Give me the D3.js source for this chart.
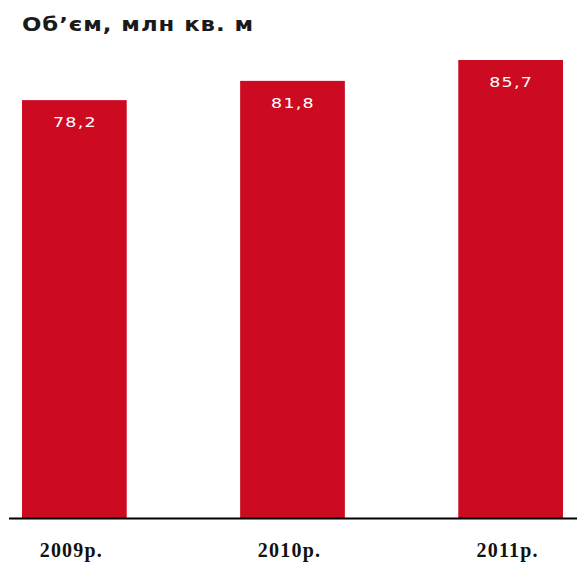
<!DOCTYPE html>
<html>
<head>
<meta charset="utf-8">
<script src="https://cdn.jsdelivr.net/npm/d3@7/dist/d3.min.js"></script>
<style>
  html, body { margin: 0; padding: 0; background: #fff; }
  svg { display: block; }
</style>
</head>
<body>
<svg id="chart" width="577" height="562"></svg>
<script>
// Floor space volume by year, mln sq. m
const years = ["2009р.", "2010р.", "2011р."];
const volumes = [78.2, 81.8, 85.7];
const valueLabels = ["78,2", "81,8", "85,7"];
const title = "Об’єм, млн кв. м";

const svg = d3.select("#chart");
const baseY = 518.5;

const x = d3.scaleBand()
  .domain(years)
  .range([22, 563])
  .paddingInner(0.52)
  .paddingOuter(0);

const y = d3.scaleLinear()
  .domain([0, 90])
  .range([baseY, baseY - 90 * 5.35]);

// Bars
svg.append("g")
  .selectAll("rect")
  .data(years)
  .join("rect")
  .attr("x", d => x(d))
  .attr("width", x.bandwidth())
  .attr("y", (d, i) => y(volumes[i]))
  .attr("height", (d, i) => y(0) - y(volumes[i]))
  .attr("fill", "#cc0a22");

// Value labels inside bars (wide-set lettering)
svg.append("g")
  .selectAll("text")
  .data(years)
  .join("text")
  .attr("transform", (d, i) =>
    `translate(${x(d) + x.bandwidth() / 2 + 0.5},${y(volumes[i]) + 27}) scale(1.25,1)`)
  .attr("text-anchor", "middle")
  .attr("fill", "#fff")
  .attr("font-family", "DejaVu Sans, Verdana, sans-serif")
  .attr("font-size", 14)
  .attr("letter-spacing", 1)
  .text((d, i) => valueLabels[i]);

// Category axis
const axis = svg.append("g")
  .attr("transform", `translate(0,${baseY})`)
  .call(d3.axisBottom(x).tickSize(0).tickPadding(24));
axis.select(".domain").remove();
axis.append("line")
  .attr("x1", 9).attr("x2", 577)
  .attr("stroke", "#000").attr("stroke-width", 2);
axis.selectAll(".tick text")
  .attr("font-family", "Liberation Serif, Times New Roman, serif")
  .attr("font-weight", "bold")
  .attr("font-size", 20)
  .attr("letter-spacing", 1.2)
  .attr("fill", "#111")
  .attr("dx", -3);

// Title
svg.append("text")
  .attr("transform", "translate(22,31) scale(1.2,1)")
  .attr("font-family", "DejaVu Sans, Verdana, sans-serif")
  .attr("font-weight", "bold")
  .attr("font-size", 19)
  .attr("letter-spacing", 0.8)
  .attr("fill", "#1a1a1a")
  .text(title);
</script>
</body>
</html>
